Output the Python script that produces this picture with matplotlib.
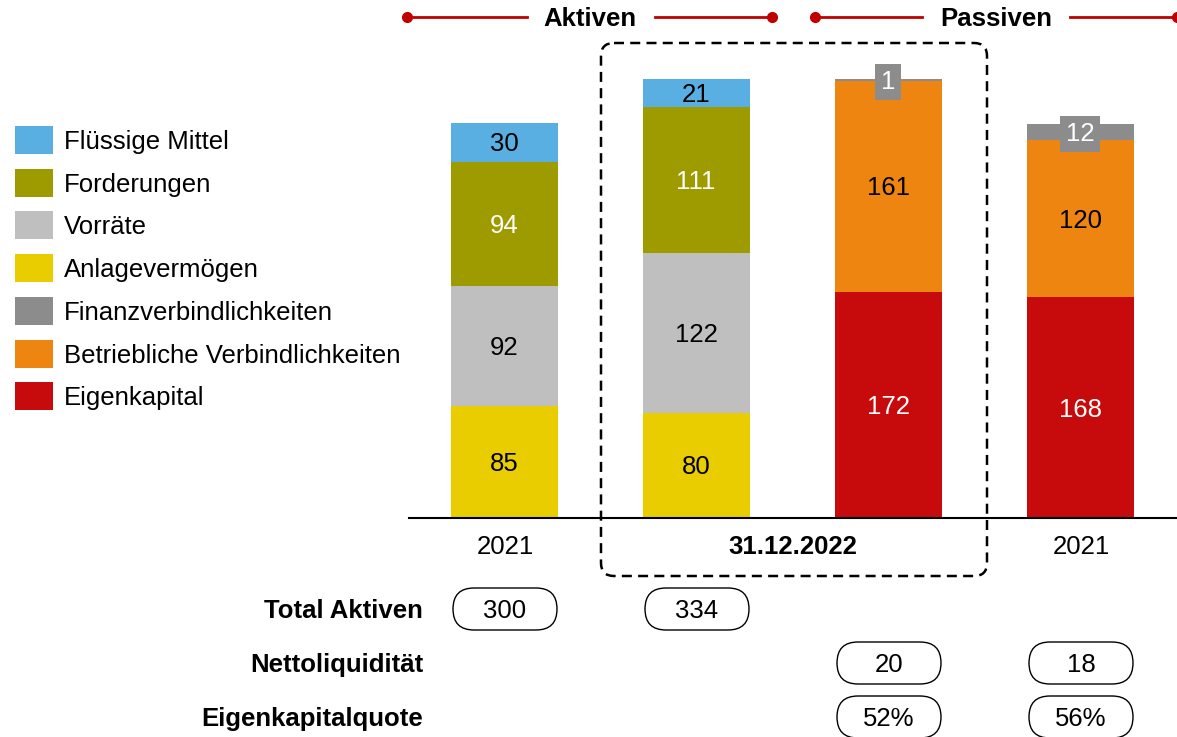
import matplotlib.pyplot as plt
from matplotlib.patches import FancyBboxPatch, Rectangle

plt.rcParams["font.family"] = ["Liberation Sans", "DejaVu Sans"]

# data
bar_labels = ["2021", "31.12.2022", "31.12.2022", "2021"]
anlage = [85, 80]
vorraete = [92, 122]
forderungen = [94, 111]
fluessige = [30, 21]
eigenkapital = [172, 168]
betriebliche = [161, 120]
finanz = [1, 12]

total_aktiven = ["300", "334"]
nettoliquiditaet = ["20", "18"]
ek_quote = ["52%", "56%"]

legend_names = ["Flüssige Mittel", "Forderungen", "Vorräte", "Anlagevermögen",
                "Finanzverbindlichkeiten", "Betriebliche Verbindlichkeiten", "Eigenkapital"]

c_blue = "#5AAFE2"
c_olive = "#9E9B00"
c_lgray = "#BFBFBF"
c_yellow = "#EACD00"
c_dgray = "#8C8C8D"
c_orange = "#EE8511"
c_red = "#C70A0B"
legend_colors = [c_blue, c_olive, c_lgray, c_yellow, c_dgray, c_orange, c_red]

W, H = 1177, 737
fig = plt.figure(figsize=(W / 100, H / 100), dpi=100)

# bar axes: baseline at y=518px, x from 409px to 1177px
base_px = 518
ax = fig.add_axes([409 / W, (H - base_px) / H, 768 / W, base_px / H])
ax.set_xlim(-0.495, 3.505)
ax.set_ylim(0, base_px / 1.313)
ax.axis("off")

bw = 0.557
fs = 18.5
dy = 2  # small downward nudge for text in pixel overlay


def seg_label(x, bottom, val, tcol, box=None):
    kw = {}
    if box:
        kw["bbox"] = dict(facecolor=box, edgecolor="none", pad=4)
    ax.text(x, bottom + val / 2 - 1.5, str(val), ha="center", va="center",
            fontsize=fs, color=tcol, **kw)


# Aktiven bars
for i in range(2):
    parts = [(anlage[i], c_yellow, "black"), (vorraete[i], c_lgray, "black"),
             (forderungen[i], c_olive, "white"), (fluessige[i], c_blue, "black")]
    b = 0
    for val, col, tcol in parts:
        ax.bar(i, val, bw, bottom=b, color=col, linewidth=0)
        seg_label(i, b, val, tcol)
        b += val

# Passiven bars
for j, x in enumerate([2, 3]):
    parts = [(eigenkapital[j], c_red, "white"), (betriebliche[j], c_orange, "black"),
             (finanz[j], c_dgray, "white")]
    b = 0
    for val, col, tcol in parts:
        ax.bar(x, val, bw, bottom=b, color=col, linewidth=0)
        seg_label(x, b, val, tcol, box=c_dgray if col == c_dgray else None)
        b += val

# overlay axes in pixel coordinates
ov = fig.add_axes([0, 0, 1, 1])
ov.set_xlim(0, W)
ov.set_ylim(H, 0)
ov.axis("off")

# baseline
ov.plot([409, W], [base_px, base_px], color="black", lw=1.5)

# category labels
ov.text(505, 545 + dy, bar_labels[0], ha="center", va="center", fontsize=fs)
ov.text(793, 545 + dy, bar_labels[1], ha="center", va="center", fontsize=fs, fontweight="bold")
ov.text(1081, 545 + dy, bar_labels[3], ha="center", va="center", fontsize=fs)

# dashed highlight box
ov.add_patch(FancyBboxPatch((601, 43), 386, 533, boxstyle="round,pad=0,rounding_size=13",
                            facecolor="none", edgecolor="black", lw=1.8, ls=(0, (4, 2.5))))

# header lines
red = "#C00000"
for x0, x1, xa, xb, txt, tx in [(407, 772, 527, 655, "Aktiven", 590),
                                 (815, 1177, 922, 1070, "Passiven", 996)]:
    ov.plot([x0, xa], [17, 17], color=red, lw=2)
    ov.plot([xb, x1], [17, 17], color=red, lw=2)
    ov.plot([x0, x1], [17, 17], ls="none", marker="o", ms=7, color=red)
    ov.text(tx, 17 + dy, txt, ha="center", va="center", fontsize=fs, fontweight="bold")

# legend
for k, (name, col) in enumerate(zip(legend_names, legend_colors)):
    yc = 140 + k * 42.7
    ov.add_patch(Rectangle((15, yc - 14), 38, 28, facecolor=col, edgecolor="none"))
    ov.text(64, yc + dy, name, ha="left", va="center", fontsize=fs)


# KPI rows
def pill(xc, yc, txt):
    ov.add_patch(FancyBboxPatch((xc - 52, yc - 21), 104, 42,
                                boxstyle="round,pad=0,rounding_size=21",
                                facecolor="white", edgecolor="black", lw=1))
    ov.text(xc, yc + dy, txt, ha="center", va="center", fontsize=fs)


bar_px = [505, 697, 889, 1081]
rows = [("Total Aktiven", 609, total_aktiven, bar_px[:2]),
        ("Nettoliquidität", 663, nettoliquiditaet, bar_px[2:]),
        ("Eigenkapitalquote", 717, ek_quote, bar_px[2:])]
for name, yc, vals, xs in rows:
    ov.text(423, yc + dy, name, ha="right", va="center", fontsize=fs, fontweight="bold")
    for xc, v in zip(xs, vals):
        pill(xc, yc, v)

fig.savefig("out.png", dpi=100)
